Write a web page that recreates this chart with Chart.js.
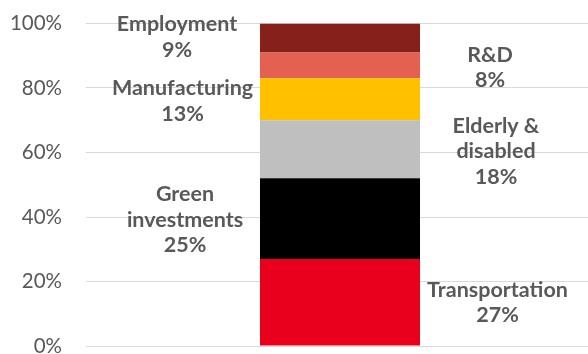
<!DOCTYPE html>
<html>
<head>
<meta charset="utf-8">
<script src="https://cdn.jsdelivr.net/npm/chart.js@4"></script>
<style>
  html, body { margin: 0; padding: 0; background: #fff; overflow: hidden; }
  canvas { display: block; }
</style>
</head>
<body>
<canvas id="chart" width="594" height="354"></canvas>
<script>
// bottom to top
const sectors = ['Transportation', 'Green investments', 'Elderly & disabled', 'Manufacturing', 'R&D', 'Employment'];
const shares = [27, 25, 18, 13, 8, 9];
const yTicks = [0, 20, 40, 60, 80, 100];

const colors = ['#e8001c', '#000000', '#bfbfbf', '#ffc000', '#e46050', '#86201a'];
// label text lines and where they sit horizontally
const labelLines = [
  ['Transportation', '27%'],
  ['Green', 'investments', '25%'],
  ['Elderly &', 'disabled', '18%'],
  ['Manufacturing', '13%'],
  ['R&D', '8%'],
  ['Employment', '9%']
];
const labelX = [497.5, 185, 496, 182.5, 490, 177];
const labelNudge = [0, 1, 2, 2, 2, -1];

const segmentLabels = {
  id: 'segmentLabels',
  afterDatasetsDraw(chart) {
    const ctx = chart.ctx;
    const y = chart.scales.y;
    ctx.save();
    ctx.font = 'bold 21.5px Lato, sans-serif';
    ctx.fillStyle = '#595959';
    ctx.textAlign = 'center';
    ctx.textBaseline = 'middle';
    let base = 0;
    shares.forEach((v, i) => {
      const mid = y.getPixelForValue(base + v / 2) + labelNudge[i];
      base += v;
      const lines = labelLines[i];
      const lh = 25.5;
      const top = mid - (lines.length - 1) * lh / 2;
      lines.forEach((t, k) => ctx.fillText(t, labelX[i], top + k * lh));
    });
    ctx.restore();
  }
};

new Chart(document.getElementById('chart').getContext('2d'), {
  type: 'bar',
  data: {
    labels: [''],
    datasets: sectors.map((s, i) => ({
      label: s,
      data: [shares[i]],
      backgroundColor: colors[i],
      borderWidth: 0,
      categoryPercentage: 1,
      barPercentage: 0.315
    }))
  },
  options: {
    responsive: false,
    animation: false,
    layout: { padding: { top: 23.5, bottom: 8, left: 0, right: 0 } },
    plugins: { legend: { display: false }, tooltip: { enabled: false } },
    scales: {
      x: { stacked: true, display: false },
      y: {
        stacked: true,
        min: 0,
        max: 100,
        afterFit: s => { s.width = 86; s.paddingTop = 0; s.paddingBottom = 0; },
        afterBuildTicks: s => { s.ticks = yTicks.map(v => ({ value: v })); },
        border: { display: false },
        grid: { color: '#d9d9d9', lineWidth: 1, drawTicks: false },
        ticks: {
          padding: 24,
          color: '#595959',
          font: { family: 'Lato', size: 20.5, weight: '400' },
          callback: v => v + '%'
        }
      }
    }
  },
  plugins: [segmentLabels]
});
</script>
</body>
</html>
